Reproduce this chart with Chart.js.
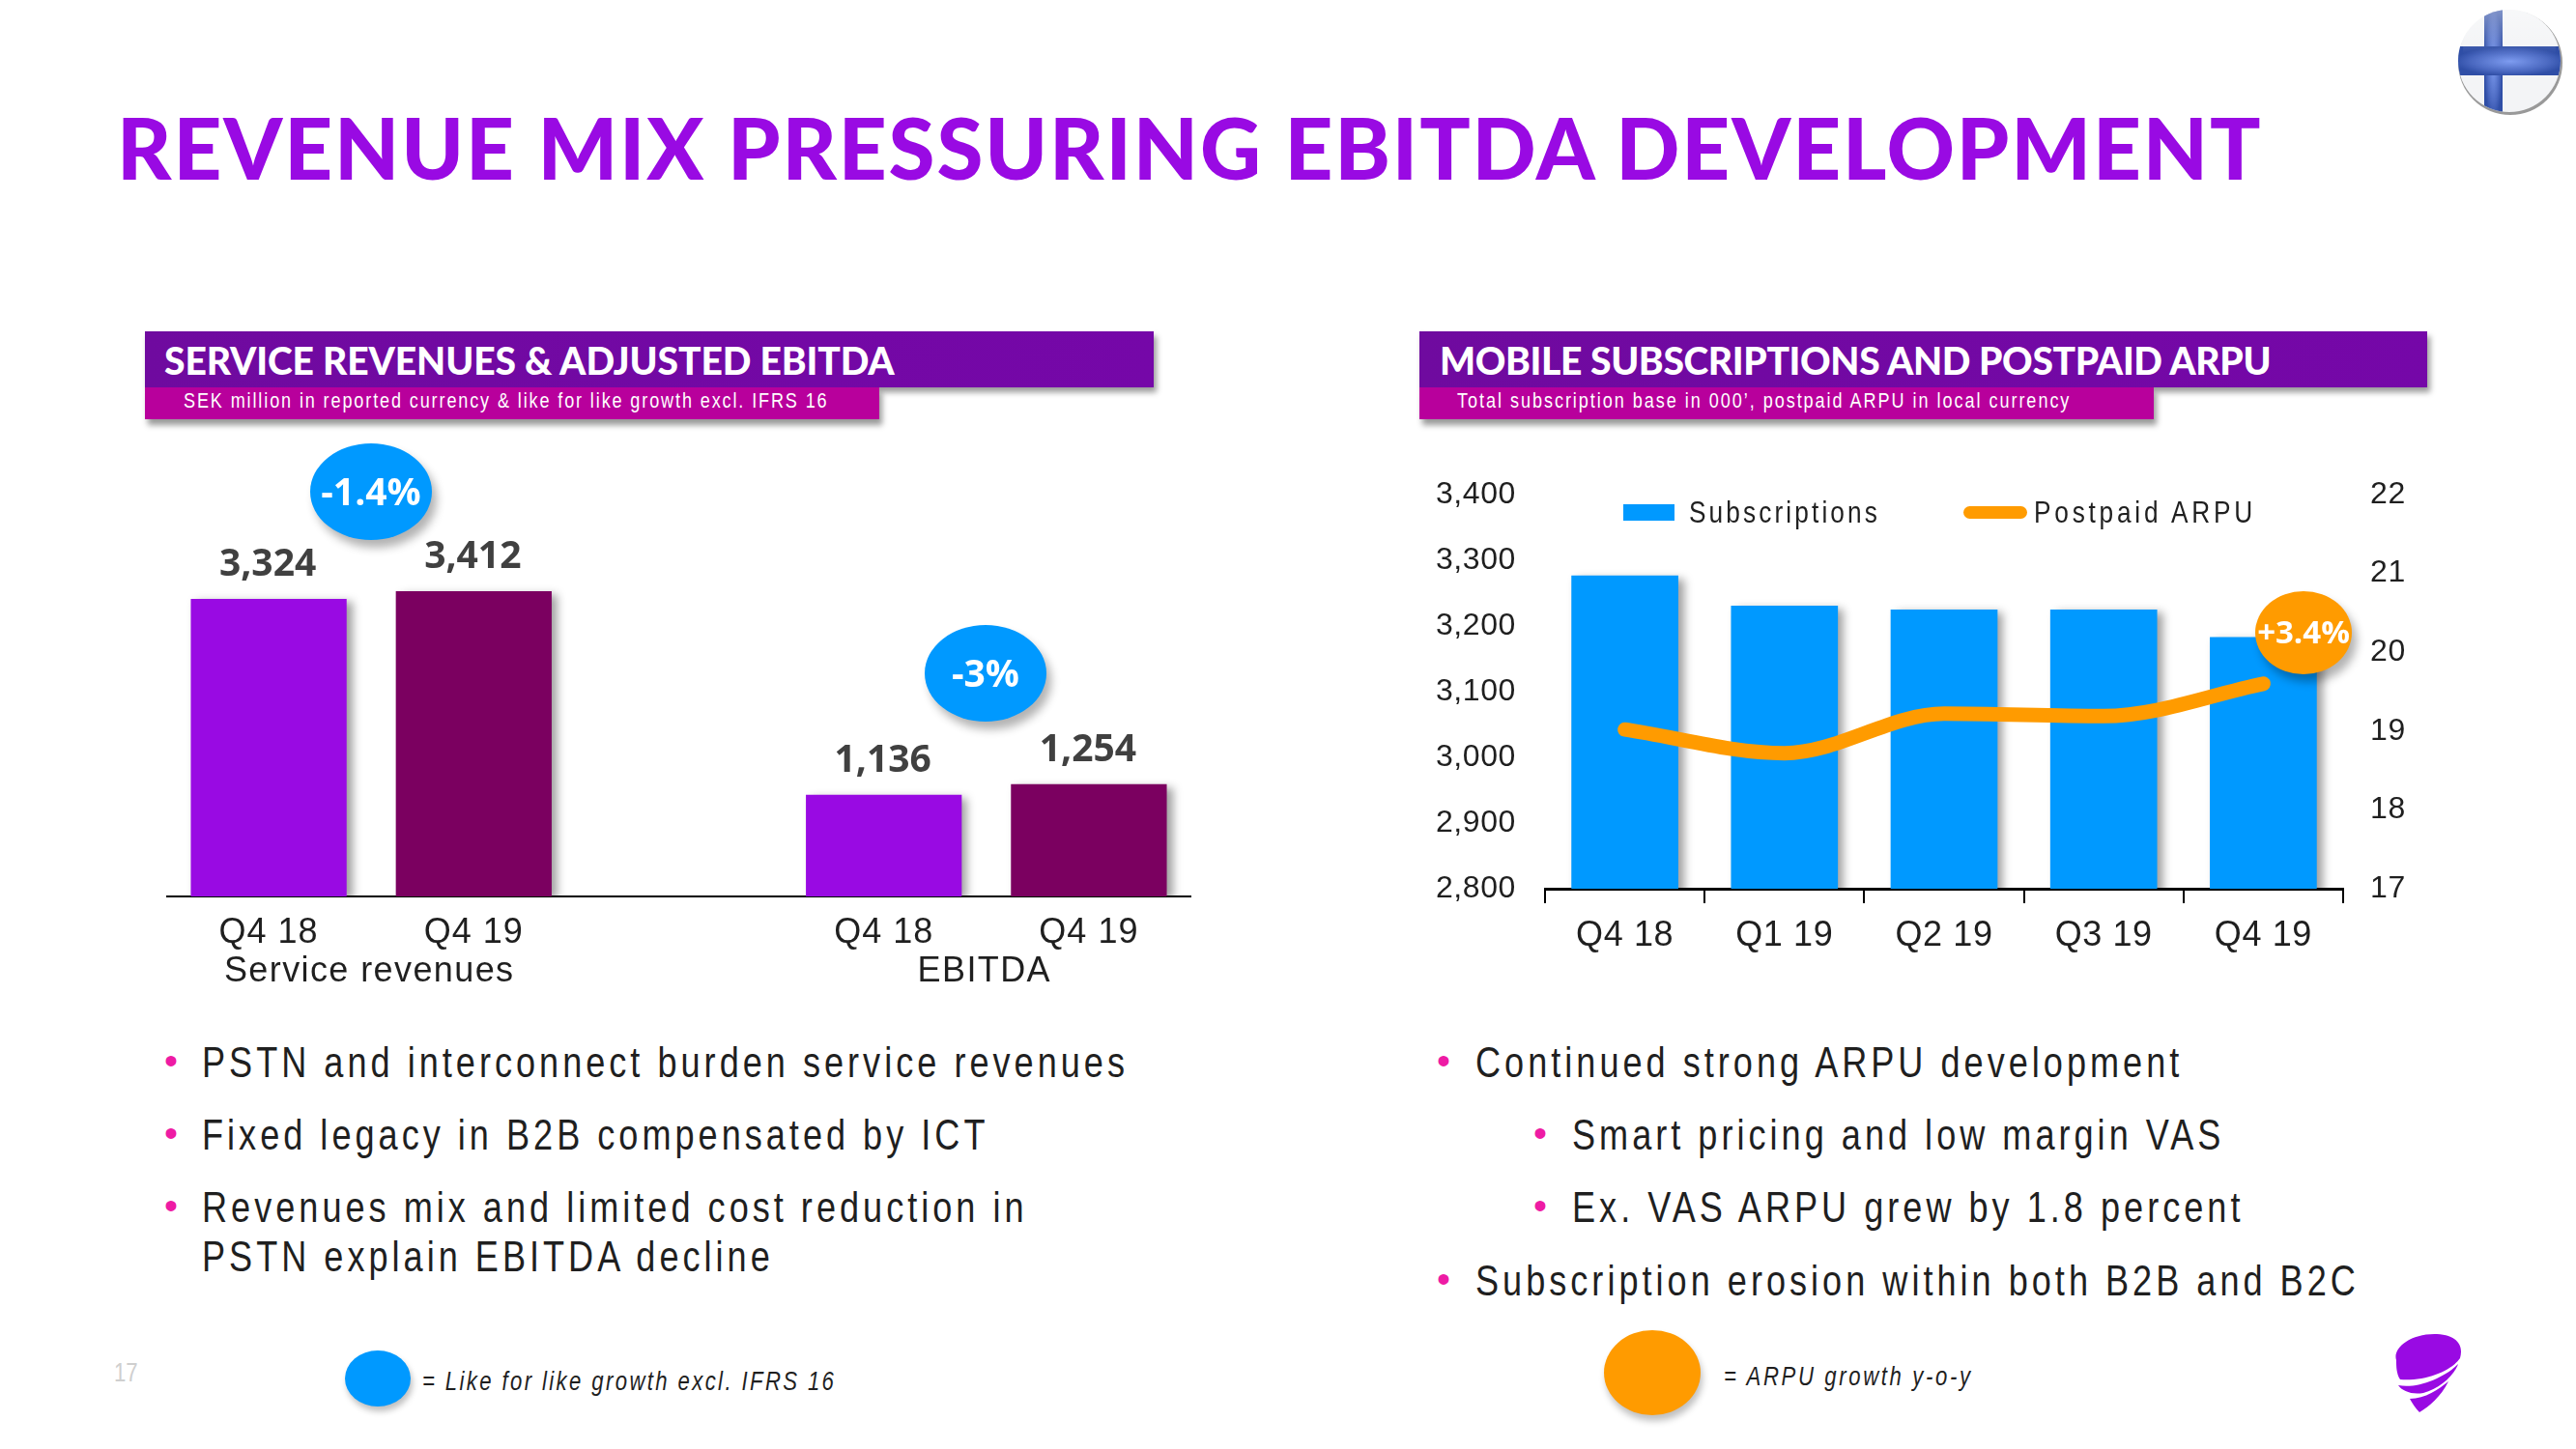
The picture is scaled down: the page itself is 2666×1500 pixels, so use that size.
<!DOCTYPE html>
<html><head><meta charset="utf-8">
<script src="https://cdn.jsdelivr.net/npm/chart.js@4"></script>
<style>
html,body{margin:0;padding:0;background:#fff;width:2666px;height:1500px;overflow:hidden}
#s{position:relative;width:2666px;height:1500px;font-family:"Liberation Sans",sans-serif;color:#1f1f1f}
.t{position:absolute;white-space:nowrap;transform:translateY(-50%);line-height:1}
.n{transform-origin:left center;transform:translateY(-50%) scaleX(.82)}
canvas{position:absolute}
.r{position:absolute}
.bub{position:absolute;box-sizing:border-box;padding-bottom:4px;border-radius:50%;display:flex;align-items:center;justify-content:center;color:#fff;font-family:"Open Sans";font-weight:700;box-shadow:5px 8px 10px rgba(0,0,0,.3)}
.hd{font-family:Lato;font-weight:900;color:#fff;font-size:39px}
.sb{color:#fff;font-size:22px;letter-spacing:2.3px}
.bl{font-size:44px;letter-spacing:4.9px}
.dot{position:absolute;color:#ee1ba4;font-size:40px;transform:translateY(-50%);line-height:1}
</style></head><body><div id="s">
<div class="t" style="left:121px;top:152px;font-family:Lato;font-weight:900;font-size:87px;color:#990AE3;letter-spacing:1.9px">REVENUE MIX PRESSURING EBITDA DEVELOPMENT</div>

<div class="r" style="left:150px;top:401px;width:760px;height:33px;background:#B8009C;box-shadow:3px 6px 6px rgba(0,0,0,.4)"></div>
<div class="r" style="left:150px;top:343px;width:1044px;height:58px;background:linear-gradient(90deg,#6f0a9f,#7507a8);box-shadow:3px 5px 6px rgba(0,0,0,.4)"></div>
<div class="r" style="left:150px;top:401px;width:760px;height:33px;background:#B8009C"></div>
<div class="t hd" style="left:170px;top:373px;letter-spacing:-0.1px">SERVICE REVENUES &amp; ADJUSTED EBITDA</div>
<div class="t sb n" style="left:190px;top:415px">SEK million in reported currency &amp; like for like growth excl. IFRS 16</div>

<div class="r" style="left:1469px;top:401px;width:760px;height:33px;background:#B8009C;box-shadow:3px 6px 6px rgba(0,0,0,.4)"></div>
<div class="r" style="left:1469px;top:343px;width:1043px;height:58px;background:linear-gradient(90deg,#6f0a9f,#7507a8);box-shadow:3px 5px 6px rgba(0,0,0,.4)"></div>
<div class="r" style="left:1469px;top:401px;width:760px;height:33px;background:#B8009C"></div>
<div class="t hd" style="left:1490px;top:373px;letter-spacing:-0.35px">MOBILE SUBSCRIPTIONS AND POSTPAID ARPU</div>
<div class="t sb n" style="left:1508px;top:415px;letter-spacing:2.4px">Total subscription base in 000’, postpaid ARPU in local currency</div>

<canvas id="c1" width="1061" height="540" style="left:172px;top:500px"></canvas>
<canvas id="c2" width="1160" height="550" style="left:1440px;top:490px"></canvas>

<div class="bub" style="left:321px;top:459px;width:126px;height:100px;background:#0099FF;font-size:39px">-1.4%</div>
<div class="bub" style="left:957px;top:647px;width:126px;height:100px;background:#0099FF;font-size:39px">-3%</div>
<div class="bub" style="left:2334px;top:612px;width:100px;height:86px;background:#FF9B00;font-size:33px;letter-spacing:0">+3.4%</div>

<div id="lg"></div>

<div class="dot" style="left:170px;top:1098px">•</div><div class="t bl n" style="left:209px;top:1100px">PSTN and interconnect burden service revenues</div>
<div class="dot" style="left:170px;top:1173px">•</div><div class="t bl n" style="left:209px;top:1175px">Fixed legacy in B2B compensated by ICT</div>
<div class="dot" style="left:170px;top:1248px">•</div><div class="t bl n" style="left:209px;top:1250px">Revenues mix and limited cost reduction in</div>
<div class="t bl n" style="left:209px;top:1301px">PSTN explain EBITDA decline</div>

<div class="dot" style="left:1487px;top:1098px">•</div><div class="t bl n" style="left:1527px;top:1100px">Continued strong ARPU development</div>
<div class="dot" style="left:1587px;top:1173px">•</div><div class="t bl n" style="left:1627px;top:1175px">Smart pricing and low margin VAS</div>
<div class="dot" style="left:1587px;top:1248px">•</div><div class="t bl n" style="left:1627px;top:1250px">Ex. VAS ARPU grew by 1.8 percent</div>
<div class="dot" style="left:1487px;top:1324px">•</div><div class="t bl n" style="left:1527px;top:1326px">Subscription erosion within both B2B and B2C</div>

<div class="t n" style="left:118px;top:1421px;font-size:27px;color:#cfcfcf">17</div>
<div class="r" style="left:357px;top:1398px;width:68px;height:58px;border-radius:50%;background:#0099FF;box-shadow:2px 5px 6px rgba(0,0,0,.25)"></div>
<div class="t n" style="left:437px;top:1430px;font-size:27px;font-style:italic;letter-spacing:2.9px">= Like for like growth excl. IFRS 16</div>
<div class="r" style="left:1660px;top:1377px;width:100px;height:88px;border-radius:50%;background:#FF9B00;box-shadow:2px 6px 7px rgba(0,0,0,.25)"></div>
<div class="t n" style="left:1784px;top:1425px;font-size:27px;font-style:italic;letter-spacing:3.2px">= ARPU growth y-o-y</div>

<svg class="r" style="left:2472px;top:1378px" width="78" height="86" viewBox="0 0 78 86">
<path d="M8 30C4 18 22 2 50 3C70 4 78 14 74 28C66 40 40 52 12 50C8 44 8 36 8 30Z" fill="#990AE3"/>
<path d="M10 56C30 60 58 48 72 34C68 46 52 60 36 64C24 66 14 62 10 56Z" fill="#990AE3"/>
<path d="M22 70C38 70 52 60 62 52C54 68 42 78 32 84C28 80 24 74 22 70Z" fill="#990AE3"/>
</svg>
<svg class="r" style="left:2540px;top:6px" width="116" height="116" viewBox="0 0 116 116">
<defs><clipPath id="cp"><circle cx="57" cy="57" r="53"/></clipPath>
<radialGradient id="gl" cx=".5" cy=".52" r=".5"><stop offset="0" stop-color="#7e9cf0"/><stop offset=".7" stop-color="#4a68c0"/><stop offset="1" stop-color="#2f4ea6"/></radialGradient>
<linearGradient id="sh" x1="0" y1="0" x2="0" y2="1"><stop offset="0" stop-color="#fff" stop-opacity=".45"/><stop offset=".55" stop-color="#fff" stop-opacity="0"/></linearGradient></defs>
<circle cx="58" cy="59" r="54" fill="#999"/>
<g clip-path="url(#cp)"><rect width="116" height="116" fill="#f3f4f6"/>
<rect x="31" y="0" width="19" height="116" fill="url(#gl)"/><rect x="0" y="42" width="116" height="30" fill="url(#gl)"/>
<circle cx="57" cy="45" r="48" fill="url(#sh)"/></g>
</svg>
</div>
<script>
// Left chart data
const revCategories = ["Q4 18","Q4 19","","Q4 18","Q4 19"];
const revValues = [3324,3412,null,1136,1254];
const revColors = ["#990AE3","#7B0060",null,"#990AE3","#7B0060"];
const revLabels = ["3,324","3,412","","1,136","1,254"];
const groupLabels = ["Service revenues","EBITDA"];
const groupCentres = [0.5,3.5];
// Right chart data
const subCategories = ["Q4 18","Q1 19","Q2 19","Q3 19","Q4 19"];
const subscriptions = [3277,3231,3225,3225,3183];
const arpu = [19.02,18.72,19.22,19.19,19.6];
const leftTicks = [2800,3400];
const rightTicks = [17,22];
const SANS = '"Liberation Sans"';

const spaced = {id:'spaced',
  beforeInit(c){c.ctx.letterSpacing=c.options.plugins.spaced.ls;},
  beforeUpdate(c){c.ctx.letterSpacing=c.options.plugins.spaced.ls;},
  beforeDraw(c){c.ctx.letterSpacing=c.options.plugins.spaced.ls;}};
const shadow = {id:'shadow',
  beforeDatasetDraw(c,a){const d=c.data.datasets[a.index];if(d.type==='line')return;
    c.ctx.save();c.ctx.shadowColor='rgba(0,0,0,.38)';c.ctx.shadowBlur=9;c.ctx.shadowOffsetX=6;c.ctx.shadowOffsetY=3;},
  afterDatasetDraw(c,a){const d=c.data.datasets[a.index];if(d.type==='line')return;c.ctx.restore();}};
const fitX=h=>function(s){s.height=h;s.paddingLeft=s.paddingRight=0;};
const fitY=w=>function(s){s.width=w;s.paddingTop=s.paddingBottom=0;};
const valueLabels = {id:'valueLabels',afterDatasetsDraw(c){
  const x=c.ctx,m=c.getDatasetMeta(0);x.save();
  x.letterSpacing='0px';x.font='700 39px "Open Sans"';x.fillStyle='#404040';x.textAlign='center';x.textBaseline='middle';
  m.data.forEach((b,i)=>{if(revLabels[i])x.fillText(revLabels[i],b.x-(i%3===0?1:1),b.y-35);});
  x.letterSpacing='1.4px';x.font='36px '+SANS;x.fillStyle='#1f1f1f';
  const sc=c.scales.x,step=sc.getPixelForValue(1)-sc.getPixelForValue(0);
  groupLabels.forEach((g,i)=>x.fillText(g,sc.getPixelForValue(0)+groupCentres[i]*step-2,c.chartArea.bottom+78));
  x.restore();}};

new Chart(document.getElementById('c1'),{type:'bar',
 data:{labels:revCategories,datasets:[{data:revValues,backgroundColor:revColors,barPercentage:.76,categoryPercentage:1,borderWidth:0}]},
 plugins:[spaced,shadow,valueLabels],
 options:{responsive:false,animation:false,layout:{autoPadding:false,padding:0},
  plugins:{legend:{display:false},tooltip:{enabled:false},spaced:{ls:'1px'}},
  scales:{x:{afterFit:fitX(112),grid:{display:false},border:{color:'#000',width:2},
    ticks:{color:'#1f1f1f',font:{size:36,family:SANS},padding:8,maxRotation:0,autoSkip:false}},
   y:{display:false,min:0,max:4620}}}});

new Chart(document.getElementById('c2'),{type:'bar',
 data:{labels:subCategories,datasets:[
  {type:'line',label:'Postpaid ARPU',data:arpu,yAxisID:'y2',borderColor:'#FF9B00',borderWidth:15,borderCapStyle:'round',borderJoinStyle:'round',pointRadius:0,cubicInterpolationMode:'monotone',tension:.4,fill:false,order:1},
  {type:'bar',label:'Subscriptions',data:subscriptions,yAxisID:'y',backgroundColor:'#0099FF',barPercentage:.67,categoryPercentage:1,borderWidth:0,order:2}]},
 plugins:[spaced,shadow],
 options:{responsive:false,animation:false,layout:{autoPadding:false,padding:{top:22,bottom:0,left:0,right:0}},
  plugins:{legend:{display:false},tooltip:{enabled:false},spaced:{ls:'0.6px'}},
  scales:{x:{afterFit:fitX(120),offset:true,grid:{display:true,drawOnChartArea:false,color:'#000',lineWidth:2,tickLength:15,offset:true},border:{color:'#000',width:3},
    ticks:{color:'#1f1f1f',font:{size:36,family:SANS},padding:12,maxRotation:0,autoSkip:false}},
   y:{position:'left',afterFit:fitY(159),min:leftTicks[0],max:leftTicks[1],grid:{display:false},border:{display:false},
    ticks:{stepSize:100,color:'#1f1f1f',font:{size:32,family:SANS},padding:22,callback:v=>v.toLocaleString('en-US')}},
   y2:{position:'right',afterFit:fitY(175),min:rightTicks[0],max:rightTicks[1],grid:{display:false},border:{display:false},
    ticks:{stepSize:1,color:'#1f1f1f',font:{size:32,family:SANS},padding:20}}}}});

// Legend built from the dataset names
const lg=document.getElementById('lg');
lg.innerHTML=`<div class="r" style="left:1680px;top:522px;width:53px;height:17px;background:#0099FF"></div>
<div class="t n" style="left:1748px;top:530px;font-size:32px;letter-spacing:3.8px">Subscriptions</div>
<div class="r" style="left:2032px;top:524px;width:66px;height:13px;border-radius:7px;background:#FF9B00"></div>
<div class="t n" style="left:2105px;top:530px;font-size:32px;letter-spacing:4.6px">Postpaid ARPU</div>`;
</script></body></html>
